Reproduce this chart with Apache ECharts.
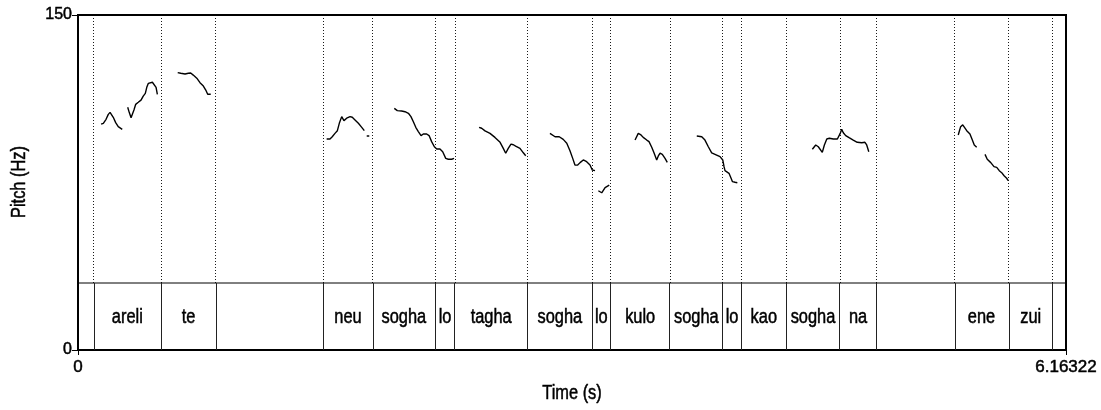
<!DOCTYPE html>
<html>
<head>
<meta charset="utf-8">
<title>Pitch (Hz)</title>
<script src="https://cdn.jsdelivr.net/npm/echarts@6/dist/echarts.min.js"></script>
<style>
  html, body { margin: 0; padding: 0; background: #fff; }
  #chart { width: 1101px; height: 410px; }
</style>
</head>
<body>
<div id="chart"></div>
<script>
// Total duration of the recording (s) and the displayed pitch range (Hz)
const DURATION = 6.16322;
const PITCH_MIN = 0;
const PITCH_MAX = 150;

// Axis tick labels
const timeTicks = [0, DURATION];
const pitchTicks = [PITCH_MIN, PITCH_MAX];

// Word tier: interval boundaries (s) and the word in each interval
const tierBounds = [0, 0.0954, 0.5196, 0.859, 1.530, 1.838, 2.227, 2.352, 2.803, 3.208,
  3.321, 3.693, 4.022, 4.138, 4.418, 4.752, 4.980, 5.466, 5.806, 6.080, DURATION];
const tierLabels = ['', 'areli', 'te', '', 'neu', 'sogha', 'lo', 'tagha', 'sogha', 'lo',
  'kulo', 'sogha', 'lo', 'kao', 'sogha', 'na', '', 'ene', 'zui', ''];

// Voiced stretches of the F0 track: [time (s), pitch (Hz)]
const pitchAreliA = [[0.144, 101.1], [0.158, 101.5], [0.175, 103.3], [0.189, 105.5], [0.200, 106.4],
  [0.210, 106.0], [0.220, 104.2], [0.235, 101.8], [0.251, 100.0], [0.276, 98.8]];
const pitchAreliB = [[0.310, 108.7], [0.320, 106.3], [0.331, 104.0], [0.341, 104.2], [0.349, 107.5],
  [0.360, 110.0], [0.376, 110.9], [0.393, 111.9], [0.407, 113.7], [0.420, 114.9], [0.429, 117.6],
  [0.439, 119.4], [0.449, 119.9], [0.464, 119.9], [0.476, 119.4], [0.487, 117.6], [0.495, 114.5]];
const pitchTe = [[0.622, 124.2], [0.641, 123.9], [0.668, 123.6], [0.688, 123.9], [0.703, 124.0],
  [0.719, 123.1], [0.741, 121.7], [0.761, 119.7], [0.782, 118.2], [0.797, 116.4], [0.809, 114.5],
  [0.828, 114.5]];
const pitchNeu = [[1.551, 94.5], [1.572, 94.5], [1.586, 95.5], [1.603, 97.0], [1.618, 98.2],
  [1.630, 101.5], [1.645, 104.5], [1.659, 102.7], [1.676, 103.8], [1.697, 104.5], [1.711, 104.2],
  [1.728, 103.0], [1.749, 101.5], [1.770, 99.7], [1.786, 98.2]];
const pitchNeuTail = [[1.801, 95.8], [1.817, 95.8]];
const pitchSogha1 = [[1.973, 108.2], [1.992, 107.2], [2.019, 107.0], [2.040, 106.7], [2.061, 106.0],
  [2.077, 104.5], [2.092, 102.2], [2.107, 99.7], [2.123, 97.8], [2.140, 96.0], [2.154, 96.7],
  [2.175, 96.7], [2.190, 96.0], [2.206, 93.3], [2.223, 91.0], [2.238, 90.0], [2.258, 90.0],
  [2.275, 88.8], [2.294, 85.8], [2.310, 85.4], [2.331, 85.4], [2.346, 85.8]];
const pitchTagha = [[2.502, 99.7], [2.518, 99.3], [2.539, 98.1], [2.570, 97.0], [2.601, 95.2],
  [2.633, 93.0], [2.653, 90.3], [2.668, 88.1], [2.684, 90.3], [2.701, 92.2], [2.716, 91.9],
  [2.730, 91.3], [2.757, 90.3], [2.778, 88.3], [2.793, 87.0]];
const pitchSogha2 = [[2.944, 97.0], [2.976, 95.5], [3.002, 95.5], [3.027, 94.3], [3.049, 92.6],
  [3.069, 89.2], [3.086, 85.8], [3.100, 82.8], [3.117, 82.8], [3.132, 83.9], [3.152, 85.1],
  [3.173, 84.3], [3.194, 82.8], [3.208, 80.6], [3.225, 80.3]];
const pitchLo2 = [[3.246, 71.3], [3.267, 70.4], [3.288, 72.7], [3.300, 73.3], [3.314, 73.8]];
const pitchKulo = [[3.475, 94.0], [3.495, 97.0], [3.512, 96.3], [3.526, 95.2], [3.548, 94.0],
  [3.562, 93.3], [3.579, 90.8], [3.593, 88.3], [3.610, 85.1], [3.620, 86.9], [3.631, 88.1],
  [3.645, 87.6], [3.662, 85.8], [3.676, 84.0]];
const pitchSogha3 = [[3.860, 95.8], [3.891, 95.5], [3.911, 94.0], [3.932, 91.0], [3.953, 88.3],
  [3.963, 87.6], [3.984, 87.3], [4.005, 86.6], [4.022, 85.1], [4.030, 82.1], [4.036, 80.3],
  [4.047, 80.9], [4.061, 79.1], [4.074, 76.9], [4.082, 75.4], [4.099, 75.1], [4.113, 74.9]];
const pitchSoghaNa = [[4.581, 89.9], [4.602, 91.8], [4.618, 91.0], [4.643, 88.5], [4.656, 91.8],
  [4.671, 94.5], [4.687, 94.8], [4.712, 94.5], [4.737, 94.5], [4.749, 94.5], [4.755, 97.0],
  [4.764, 98.8], [4.774, 97.3], [4.789, 96.0], [4.810, 95.1], [4.836, 94.0], [4.861, 93.0],
  [4.889, 92.8], [4.909, 93.0], [4.920, 91.8], [4.933, 88.8]];
const pitchEneA = [[5.491, 96.3], [5.506, 100.0], [5.519, 100.8], [5.529, 100.3], [5.544, 98.2],
  [5.564, 96.7], [5.579, 94.0], [5.591, 91.8], [5.606, 90.8]];
const pitchEneB = [[5.658, 87.6], [5.672, 85.4], [5.694, 83.9], [5.714, 82.1], [5.731, 81.8],
  [5.747, 80.3], [5.762, 79.4], [5.777, 78.0], [5.793, 76.9], [5.803, 75.8]];

const pitchSegments = [pitchAreliA, pitchAreliB, pitchTe, pitchNeu, pitchNeuTail, pitchSogha1,
  pitchTagha, pitchSogha2, pitchLo2, pitchKulo, pitchSogha3, pitchSoghaNa, pitchEneA, pitchEneB];

// Layout of the picture frame; the word tier takes the bottom fifth of it
const FRAME = { left: 78, right: 35, top: 15, bottom: 60 };
const FRAME_HEIGHT = 410 - FRAME.top - FRAME.bottom;
const TIER_SHARE = 0.2;
const TIER_TOP_HZ = PITCH_MIN + (PITCH_MAX - PITCH_MIN) * TIER_SHARE;

// Tall, narrow lettering for titles and words, with a hairline stroke for weight
const FONT = '"Liberation Sans", Arial, sans-serif';
const NARROW = 0.82;
const INK = { fill: '#000', stroke: '#000', lineWidth: 0.5 };

// One line series with gaps between voiced stretches
const pitchData = [];
pitchSegments.forEach((seg, i) => {
  if (i > 0) pitchData.push(null);
  seg.forEach(p => pitchData.push(p));
});

const innerBounds = tierBounds.slice(1, -1);

// Dotted guides above the tier, one per boundary
const guideLines = innerBounds.map(t => [
  { coord: [t, TIER_TOP_HZ] },
  { coord: [t, PITCH_MAX] }
]);

// Word labels at interval centres
const wordPoints = tierLabels.map((w, i) => [
  (tierBounds[i] + tierBounds[i + 1]) / 2, 0.5, w
]).filter(d => d[2] !== '');

const chart = echarts.init(document.getElementById('chart'), null, { renderer: 'canvas' });

chart.setOption({
  animation: false,
  backgroundColor: '#fff',
  grid: [
    {
      left: FRAME.left, right: FRAME.right, top: FRAME.top, bottom: FRAME.bottom,
      outerBoundsMode: 'none', containLabel: false,
      show: true, borderColor: '#000', borderWidth: 2, backgroundColor: 'transparent'
    },
    {
      left: FRAME.left, right: FRAME.right,
      top: FRAME.top + FRAME_HEIGHT * (1 - TIER_SHARE), bottom: FRAME.bottom,
      outerBoundsMode: 'none', containLabel: false,
      show: true, borderColor: '#000', borderWidth: 1, backgroundColor: 'transparent'
    }
  ],
  graphic: [
    {
      type: 'text', x: 572, y: 393, scaleX: NARROW, silent: true,
      style: Object.assign({ text: 'Time (s)', font: '20px ' + FONT, align: 'center', verticalAlign: 'middle' }, INK)
    },
    {
      type: 'text', x: 19.5, y: 182, rotation: Math.PI / 2, scaleX: NARROW, silent: true,
      style: Object.assign({ text: 'Pitch (Hz)', font: '20px ' + FONT, align: 'center', verticalAlign: 'middle' }, INK)
    }
  ],
  xAxis: [
    {
      type: 'value', gridIndex: 0, min: 0, max: DURATION,
      axisLine: { show: false },
      axisTick: { show: true, customValues: timeTicks, length: 5, lineStyle: { color: '#000', width: 1 } },
      axisLabel: {
        show: true, customValues: timeTicks, margin: 9,
        showMinLabel: true, showMaxLabel: true,
        fontFamily: FONT, fontSize: 17, color: '#000',
        textBorderColor: '#000', textBorderWidth: 0.5,
        formatter: v => (v === DURATION ? DURATION.toFixed(5) : String(v))
      },
      splitLine: { show: false }
    },
    {
      type: 'value', gridIndex: 1, min: 0, max: DURATION,
      axisLine: { show: false }, axisTick: { show: false },
      axisLabel: { show: false }, splitLine: { show: false }
    }
  ],
  yAxis: [
    {
      type: 'value', gridIndex: 0, min: PITCH_MIN, max: PITCH_MAX,
      axisLine: { show: false },
      axisTick: { show: true, customValues: pitchTicks, length: 6, lineStyle: { color: '#000', width: 1 } },
      axisLabel: {
        show: true, customValues: pitchTicks, margin: 6,
        showMinLabel: true, showMaxLabel: true,
        fontFamily: FONT, fontSize: 16, color: '#000',
        textBorderColor: '#000', textBorderWidth: 0.5
      },
      splitLine: { show: false }
    },
    {
      type: 'value', gridIndex: 1, min: 0, max: 1,
      axisLine: { show: false }, axisTick: { show: false },
      axisLabel: { show: false }, splitLine: { show: false }
    }
  ],
  series: [
    {
      type: 'line', xAxisIndex: 0, yAxisIndex: 0,
      data: pitchData, connectNulls: false,
      showSymbol: false, symbol: 'none', smooth: false,
      lineStyle: { color: '#000', width: 1.4 },
      markLine: {
        silent: true, symbol: ['none', 'none'],
        label: { show: false },
        lineStyle: { color: '#000', width: 1, type: [1, 2], opacity: 0.9 },
        data: guideLines
      },
      z: 3
    },
    {
      type: 'custom', xAxisIndex: 1, yAxisIndex: 1,
      data: wordPoints,
      encode: { x: 0, y: 1 },
      renderItem: (params, api) => {
        const pt = api.coord([api.value(0), api.value(1)]);
        return {
          type: 'text', x: pt[0], y: pt[1] + 1, scaleX: NARROW,
          style: Object.assign({
            text: wordPoints[params.dataIndex][2], font: '20px ' + FONT,
            align: 'center', verticalAlign: 'middle'
          }, INK)
        };
      },
      markLine: {
        silent: true, symbol: ['none', 'none'],
        label: { show: false },
        lineStyle: { color: '#222', width: 1, type: 'solid' },
        data: innerBounds.map(t => ({ xAxis: t }))
      },
      z: 2
    }
  ]
});
</script>
</body>
</html>
